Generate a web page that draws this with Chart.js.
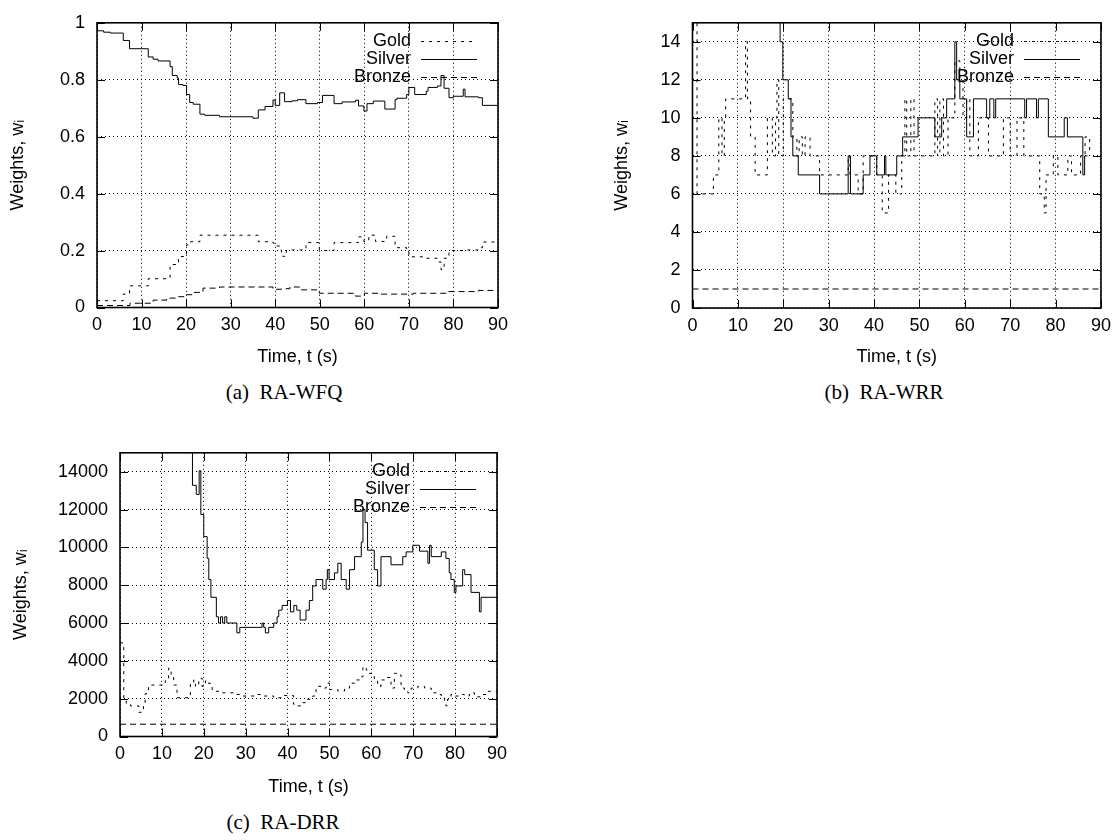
<!DOCTYPE html>
<html>
<head>
<meta charset="utf-8">
<script src="https://cdn.jsdelivr.net/npm/chart.js@4.4.1/dist/chart.umd.min.js"></script>
<style>
    body { margin: 0; background: #fff; width: 1118px; height: 840px; position: relative; overflow: hidden; }
    canvas { position: absolute; }
    .caption {
        position: absolute;
        font-family: 'Liberation Serif', 'DejaVu Serif', serif;
        font-size: 21px;
        line-height: 24px;
        color: #000;
        white-space: pre;
        transform: translateX(-50%);
    }
</style>
</head>
<body>
<canvas id="wfqChart" width="540" height="372" style="left:0px;top:0px"></canvas>
<canvas id="wrrChart" width="528" height="372" style="left:590px;top:0px"></canvas>
<canvas id="drrChart" width="540" height="372" style="left:0px;top:430px"></canvas>
<div class="caption" style="left:284px;top:380px">(a)  RA-WFQ</div>
<div class="caption" style="left:884px;top:380px">(b)  RA-WRR</div>
<div class="caption" style="left:283px;top:810px">(c)  RA-DRR</div>

<script>
// Shared axis ticks
const timeTicks = [0, 10, 20, 30, 40, 50, 60, 70, 80, 90];
const wfqTicks = [0, 0.2, 0.4, 0.6, 0.8, 1];
const wrrTicks = [0, 2, 4, 6, 8, 10, 12, 14];
const drrTicks = [0, 2000, 4000, 6000, 8000, 10000, 12000, 14000];

// RA-WFQ weights (step change times in s, weight after the change)
const wfqGoldT = [0, 5.9, 7.3, 11.5, 16.4, 18.3, 20.1, 20.8, 23.1, 36.2, 39.5, 39.9, 41.0, 41.4, 42.1, 42.5, 46.9, 49.9, 53.2, 58.7, 59.9, 61.0, 62.5, 65.0, 66.9, 69.5, 70.0, 73.9, 76.4, 77.2, 77.9, 79.0, 82.2, 85.6, 86.5, 90];
const wfqGold = [0.024, 0.047, 0.076, 0.101, 0.151, 0.179, 0.220, 0.231, 0.254, 0.231, 0.226, 0.216, 0.202, 0.180, 0.179, 0.202, 0.228, 0.200, 0.228, 0.248, 0.232, 0.254, 0.232, 0.250, 0.210, 0.197, 0.178, 0.173, 0.160, 0.133, 0.173, 0.200, 0.202, 0.210, 0.230, 0.230];
const wfqSilverT = [0, 1.5, 3, 5.9, 7.3, 11.5, 12.6, 13.7, 16.4, 16.9, 18.0, 18.3, 19.3, 20.1, 20.8, 21.6, 23.1, 24.2, 27.5, 35.0, 36.2, 37.7, 39.5, 40.0, 41.0, 42.1, 43.8, 45.0, 46.9, 49.5, 50.6, 53.2, 55.0, 58.0, 58.7, 59.9, 60.6, 62.0, 64.6, 66.9, 67.3, 69.5, 70.0, 71.3, 73.9, 74.3, 76.4, 77.2, 77.9, 79.0, 80.0, 82.2, 82.6, 85.6, 86.5, 90];
const wfqSilver = [0.972, 0.967, 0.964, 0.938, 0.909, 0.880, 0.872, 0.866, 0.846, 0.815, 0.806, 0.783, 0.780, 0.748, 0.720, 0.714, 0.679, 0.675, 0.670, 0.665, 0.694, 0.706, 0.729, 0.710, 0.754, 0.723, 0.726, 0.730, 0.716, 0.720, 0.745, 0.716, 0.722, 0.728, 0.708, 0.690, 0.716, 0.725, 0.697, 0.730, 0.735, 0.748, 0.773, 0.748, 0.760, 0.773, 0.778, 0.815, 0.770, 0.737, 0.742, 0.767, 0.740, 0.737, 0.710, 0.710];
const wfqBronzeT = [0, 7.4, 12.6, 15.6, 18.3, 20.1, 21.6, 23.8, 27.5, 39.5, 41.4, 43.3, 45.5, 49.9, 58.0, 60.0, 63.5, 71.0, 78.4, 85.6, 90];
const wfqBronze = [0.007, 0.015, 0.026, 0.033, 0.038, 0.045, 0.053, 0.068, 0.072, 0.064, 0.066, 0.072, 0.062, 0.050, 0.040, 0.050, 0.047, 0.050, 0.056, 0.060, 0.060];

// RA-WRR weights
const wrrGoldT = [0, 1.0, 4.6, 5.8, 6.5, 7.0, 7.3, 11.7, 12.1, 12.8, 13.8, 16.5, 17.6, 18.3, 18.6, 19.0, 20.0, 22.1, 23.0, 23.5, 24.2, 24.8, 25.9, 28.0, 34.3, 34.7, 36.5, 37.6, 40.6, 41.8, 43.2, 44.8, 46.1, 46.8, 47.2, 48.1, 48.8, 53.4, 54.0, 54.5, 55.3, 56.3, 57.8, 58.9, 59.6, 60.4, 61.1, 63.0, 65.2, 68.5, 70.0, 71.5, 73.0, 76.5, 77.5, 77.9, 79.5, 80.5, 82.7, 83.5, 85.5, 86.5, 87.5];
const wrrGold = [16, 6, 7, 10, 8, 10, 11, 14, 11, 9, 7, 10, 8, 10, 12, 8, 11, 9, 8, 9, 8, 9, 8, 7, 8, 7, 6, 8, 7, 5, 7, 6, 8, 11, 8, 11, 8, 11, 8, 11, 8, 10, 13, 12, 10, 11, 8, 10, 8, 10, 8, 10, 8, 6, 5, 7, 8, 7, 8, 7, 8, 9, 8];
const wrrSilverT = [19.0, 19.3, 19.9, 21.1, 21.7, 22.1, 23.3, 28.0, 34.3, 34.8, 37.6, 39.1, 40.6, 42.3, 42.6, 45.0, 46.3, 49.7, 53.4, 54.9, 56.0, 57.8, 58.2, 58.9, 60.4, 61.9, 64.8, 65.5, 66.4, 66.8, 73.2, 73.6, 75.8, 76.2, 78.4, 81.9, 82.6, 86.0, 86.4, 87.0];
const wrrSilver = [16, 14, 12, 11, 9, 8, 7, 6, 8, 6, 7, 8, 7, 8, 7, 8, 9, 10, 9, 10, 11, 14, 12, 11, 9, 11, 10, 11, 10, 11, 10, 11, 10, 11, 9, 10, 9, 7, 8, 8];
const wrrBronzeT = [0, 90];
const wrrBronze = [1, 1];

// RA-DRR weights
const drrGoldT = [0, 0.9, 1.5, 2.5, 4.5, 5.6, 6.0, 6.8, 10.8, 11.6, 12.2, 12.8, 13.6, 16.8, 17.6, 18.0, 18.8, 19.6, 20.4, 21.2, 22.0, 24.0, 27.1, 29.1, 32.7, 34.3, 36.7, 38.7, 41.4, 42.2, 43.6, 44.4, 46.0, 46.8, 48.0, 49.2, 50.0, 52.0, 53.6, 54.8, 56.0, 57.2, 58.0, 58.8, 59.5, 60.7, 61.5, 62.3, 63.5, 64.7, 65.5, 66.3, 67.1, 67.9, 68.7, 69.5, 71.1, 72.7, 74.3, 75.9, 76.7, 77.5, 77.8, 78.2, 79.0, 79.8, 81.0, 82.2, 83.4, 84.6, 86.2, 87.4, 90];
const drrGold = [4950, 1880, 1710, 1620, 1280, 1620, 2260, 2720, 2950, 3610, 3270, 2720, 2050, 2800, 2990, 2650, 3080, 2650, 2960, 2800, 2390, 2310, 2220, 2140, 2220, 2140, 2050, 2170, 1710, 1620, 1790, 1970, 2140, 2650, 2560, 2820, 2480, 2400, 2560, 2820, 2990, 3160, 3680, 3510, 3340, 2990, 2650, 2990, 3120, 2560, 3340, 3250, 2560, 2390, 2310, 2560, 2650, 2560, 2310, 2220, 2050, 1880, 1620, 1970, 2220, 2140, 2220, 2140, 2310, 2100, 2220, 2390, 2390];
const drrSilverT = [17.0, 17.3, 18.2, 18.9, 19.3, 20.0, 20.8, 21.2, 21.7, 23.0, 23.5, 24.0, 24.5, 25.0, 25.5, 27.9, 28.6, 33.9, 34.3, 34.7, 35.5, 36.7, 37.5, 37.9, 38.7, 40.0, 40.7, 41.5, 42.2, 43.0, 44.4, 45.2, 46.0, 46.8, 48.4, 49.2, 49.5, 49.9, 51.2, 52.0, 52.8, 54.0, 54.8, 56.0, 57.6, 58.0, 58.5, 59.1, 60.7, 61.5, 62.3, 64.7, 67.5, 68.3, 69.9, 71.5, 73.5, 73.9, 74.3, 76.7, 77.8, 78.6, 79.0, 79.8, 80.2, 81.8, 82.3, 83.8, 85.8, 86.2, 90];
const drrSilver = [16000, 13280, 12800, 14050, 11740, 10570, 9420, 8300, 7360, 6330, 6000, 6330, 6000, 6330, 6000, 5480, 5770, 6000, 5770, 5480, 5770, 6000, 6330, 6680, 6930, 7190, 6590, 6930, 6680, 6160, 6680, 7190, 7960, 8300, 7790, 8300, 8820, 8300, 8650, 9160, 8300, 7790, 8820, 9510, 10280, 12000, 11310, 9850, 8820, 7960, 9510, 9080, 9510, 9760, 10110, 9800, 9160, 10110, 9510, 9760, 9420, 8650, 8300, 7620, 7960, 8820, 8560, 7620, 6590, 7360, 7360];
const drrBronzeT = [0, 90];
const drrBronze = [650, 650];

const seriesNames = ['Gold', 'Silver', 'Bronze'];
const seriesDash = [[3, 5], [], [6, 4]];

Chart.defaults.font.family = "'Liberation Sans', Arial, sans-serif";
Chart.defaults.font.size = 18;
Chart.defaults.color = '#000';

// gnuplot-style frame: full box, inward ticks on every side, key in the top right corner
const gnuplotFrame = {
    id: 'gnuplotFrame',
    afterDatasetsDraw(chart) {
        const { ctx, chartArea: a, scales: { x, y } } = chart;
        ctx.save();
        ctx.strokeStyle = '#000';
        ctx.setLineDash([]);
        ctx.lineWidth = 1;
        ctx.beginPath();
        x.ticks.forEach(t => {
            const px = Math.round(x.getPixelForValue(t.value)) + 0.5;
            ctx.moveTo(px, a.bottom); ctx.lineTo(px, a.bottom - 8);
            ctx.moveTo(px, a.top); ctx.lineTo(px, a.top + 8);
        });
        y.ticks.forEach(t => {
            const py = Math.round(y.getPixelForValue(t.value)) + 0.5;
            ctx.moveTo(a.left, py); ctx.lineTo(a.left + 8, py);
            ctx.moveTo(a.right, py); ctx.lineTo(a.right - 8, py);
        });
        ctx.stroke();
        ctx.lineWidth = 1.6;
        ctx.strokeRect(a.left, a.top, a.right - a.left, a.bottom - a.top);

        // key
        ctx.font = "18px 'Liberation Sans', Arial, sans-serif";
        ctx.fillStyle = '#000';
        ctx.textAlign = 'right';
        ctx.textBaseline = 'middle';
        ctx.lineWidth = 1;
        chart.data.datasets.forEach((ds, i) => {
            const rowY = a.top + 18 + i * 18.3;
            ctx.fillText(ds.label, a.right - 87, rowY);
            ctx.setLineDash(ds.borderDash);
            ctx.beginPath();
            ctx.moveTo(a.right - 77, Math.round(rowY) + 0.5);
            ctx.lineTo(a.right - 21, Math.round(rowY) + 0.5);
            ctx.stroke();
        });
        ctx.restore();
    }
};

function stepSeries(times, values, i) {
    return {
        label: seriesNames[i],
        data: times.map((t, k) => ({ x: t, y: values[k] })),
        borderColor: '#000',
        borderWidth: 1,
        borderDash: seriesDash[i],
        pointRadius: 0,
        stepped: true,
        fill: false
    };
}

function buildChart(id, datasets, opts) {
    const ctx = document.getElementById(id);
    return new Chart(ctx, {
        type: 'line',
        data: { datasets },
        options: {
            responsive: false,
            animation: false,
            layout: { padding: { left: 0, top: opts.top, right: opts.right, bottom: 0 } },
            plugins: { legend: { display: false }, tooltip: { enabled: false } },
            scales: {
                x: {
                    type: 'linear',
                    min: 0,
                    max: 90,
                    afterBuildTicks: scale => { scale.ticks = timeTicks.map(v => ({ value: v })); },
                    afterFit: scale => { scale.height = opts.xHeight; },
                    ticks: { padding: 7, maxRotation: 0, autoSkip: false, callback: v => String(v) },
                    grid: { color: '#000', lineWidth: 1, drawTicks: false },
                    border: { display: false, dash: [1, 3] },
                    title: { display: true, text: 'Time, t (s)', padding: { top: 0, bottom: 4 } }
                },
                y: {
                    type: 'linear',
                    min: 0,
                    max: opts.yMax,
                    afterBuildTicks: scale => { scale.ticks = opts.yTicks.map(v => ({ value: v })); },
                    afterFit: scale => { scale.width = opts.yWidth; },
                    ticks: { padding: 12, autoSkip: false, callback: v => String(v) },
                    grid: { color: '#000', lineWidth: 1, drawTicks: false },
                    border: { display: false, dash: [1, 3] },
                    title: { display: true, text: 'Weights, wᵢ', padding: { top: opts.titlePad, bottom: 0 } }
                }
            }
        },
        plugins: [gnuplotFrame]
    });
}

buildChart('wfqChart', [
    stepSeries(wfqGoldT, wfqGold, 0),
    stepSeries(wfqSilverT, wfqSilver, 1),
    stepSeries(wfqBronzeT, wfqBronze, 2)
], { yMax: 1, yTicks: wfqTicks, yWidth: 97, top: 17, right: 42, xHeight: 64.5, titlePad: 7 });

buildChart('wrrChart', [
    stepSeries(wrrGoldT, wrrGold, 0),
    stepSeries(wrrSilverT, wrrSilver, 1),
    stepSeries(wrrBronzeT, wrrBronze, 2)
], { yMax: 15, yTicks: wrrTicks, yWidth: 102.5, top: 17, right: 17, xHeight: 64, titlePad: 21 });

buildChart('drrChart', [
    stepSeries(drrGoldT, drrGold, 0),
    stepSeries(drrSilverT, drrSilver, 1),
    stepSeries(drrBronzeT, drrBronze, 2)
], { yMax: 15000, yTicks: drrTicks, yWidth: 120, top: 17, right: 43, xHeight: 65.5, titlePad: 10 });
</script>
</body>
</html>
